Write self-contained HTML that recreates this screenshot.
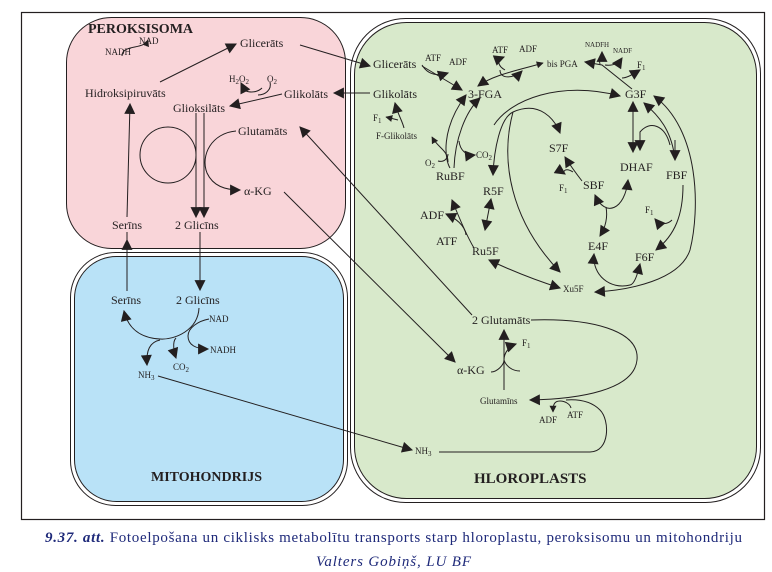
<!DOCTYPE html>
<html><head><meta charset="utf-8"><style>
html,body{margin:0;padding:0;background:#fff;width:772px;height:572px;overflow:hidden}
svg{display:block}
text{font-family:"Liberation Serif",serif;fill:#231f20}
.s{font-size:12px}.xs{font-size:9px}.sub{font-size:7px}
.ln{fill:none;stroke:#231f20;stroke-width:1}
.b{font-weight:bold}
</style></head><body>
<svg width="772" height="572" viewBox="0 0 772 572" xmlns="http://www.w3.org/2000/svg">
<defs>
<marker id="a" viewBox="0 0 10 10" refX="9" refY="5" markerWidth="7" markerHeight="7" markerUnits="userSpaceOnUse" orient="auto-start-reverse"><path d="M0,0L10,5L0,10z" fill="#231f20"/></marker>
<marker id="A" viewBox="0 0 10 10" refX="9" refY="5" markerWidth="12" markerHeight="11" markerUnits="userSpaceOnUse" orient="auto-start-reverse"><path d="M0,0L10,5L0,10z" fill="#231f20"/></marker>
</defs>
<rect x="21.5" y="12.5" width="743" height="507" fill="#fff" stroke="#231f20" stroke-width="1.2"/>
<rect x="66.5" y="17.5" width="279" height="231" rx="45" fill="#f9d5d9" stroke="#231f20"/>
<rect x="70.5" y="252.5" width="277" height="253" rx="45" fill="#fff" stroke="#231f20"/>
<rect x="74.5" y="256.5" width="269" height="245" rx="42" fill="#b9e2f7" stroke="#231f20"/>
<rect x="350.5" y="18.5" width="410" height="484" rx="55" fill="#fff" stroke="#231f20"/>
<rect x="354.5" y="22.5" width="402" height="476" rx="52" fill="#d8e9cb" stroke="#231f20"/>

<g class="ln">
<path d="M122,56 C122,44 144,50 148,40" marker-end="url(#a)"/>
<path d="M160,82 L236,44" marker-end="url(#A)"/>
<path d="M282,94 L230,106" marker-end="url(#A)"/>
<path d="M262,88 C255,95 240,92 242,85 L241,83" marker-end="url(#A)"/>
<path d="M270,82 C272,90 265,95 258,95"/>
<circle cx="168" cy="155" r="28"/>
<path d="M236,131 C212,133 200,155 207,173 C213,186 225,190 240,190" marker-end="url(#A)"/>
<path d="M196,113 L196,217" marker-end="url(#A)"/>
<path d="M204,113 L204,217" marker-end="url(#A)"/>
<path d="M127,217 L130,104" marker-end="url(#A)"/>
<path d="M300,45 L370,66" marker-end="url(#A)"/>
<path d="M370,93 L334,93" marker-end="url(#A)"/>
<path d="M472,315 L300,127" marker-end="url(#A)"/>
<path d="M284,192 L455,362" marker-end="url(#A)"/>
<path d="M200,232 L200,290" marker-end="url(#A)"/>
<path d="M127,291 L127,232"/>
<path d="M127,250 L127,240" marker-end="url(#A)"/>
<path d="M199,308 C198,330 175,340 160,339 C140,338 128,328 124,311" marker-end="url(#A)"/>
<path d="M209,319 C198,321 188,328 188,336 C188,345 196,349 208,349" marker-end="url(#A)"/>
<path d="M176,338 C172,342 174,352 176,358" marker-end="url(#A)"/>
<path d="M160,340 C150,342 146,350 147,365" marker-end="url(#A)"/>
<path d="M158,376 L412,450" marker-end="url(#A)"/>
<path d="M422,65 C425,70 432,78 448,73" marker-end="url(#A)"/>
<path d="M422,66 L462,90" marker-end="url(#A)"/>
<path d="M500,70 C500,80 515,78 522,71" marker-end="url(#A)"/>
<path d="M505,70 C498,66 496,60 504,57" marker-end="url(#A)"/>
<path d="M478,86 C495,74 520,70 543,63" marker-start="url(#A)" marker-end="url(#a)"/>
<path d="M585,62 L602,65 L632,89" marker-start="url(#A)"/>
<path d="M600,64 C598,58 602,56 602,52" marker-end="url(#A)"/>
<path d="M605,65 C612,66 618,64 622,58" marker-end="url(#A)"/>
<path d="M622,78 C626,78 630,76 640,70" marker-end="url(#A)"/>
<path d="M450,168 C445,160 440,130 466,95" marker-end="url(#A)"/>
<path d="M454,168 C455,140 465,112 480,98" marker-end="url(#A)"/>
<path d="M448,162 C448,150 438,148 432,137" marker-end="url(#a)"/>
<path d="M438,161 C445,163 448,157 448,154"/>
<path d="M459,141 C460,150 466,156 475,155" marker-end="url(#A)"/>
<path d="M398,120 L386,117" marker-end="url(#a)"/>
<path d="M404,128 C402,120 398,115 395,103" marker-end="url(#A)"/>
<path d="M474,248 C468,238 460,220 452,200" marker-end="url(#A)"/>
<path d="M466,235 C465,225 455,218 446,214" marker-end="url(#A)"/>
<path d="M491,199 L485,230" marker-start="url(#A)" marker-end="url(#A)"/>
<path d="M489,260 C510,270 535,280 560,288" marker-start="url(#A)" marker-end="url(#A)"/>
<path d="M494,125 C510,100 560,80 620,96" marker-end="url(#A)"/>
<path d="M513,112 C500,118 494,150 493,175" marker-end="url(#A)"/>
<path d="M513,112 C540,100 555,120 560,133" marker-end="url(#A)"/>
<path d="M513,112 C500,160 510,220 560,272" marker-end="url(#A)"/>
<path d="M582,181 C575,172 570,165 565,157" marker-end="url(#A)"/>
<path d="M573,172 C565,167 562,172 565,174" marker-end="url(#A)"/>
<path d="M633,102 L633,152" marker-start="url(#A)" marker-end="url(#A)"/>
<path d="M670,145 C665,125 650,120 640,132 L640,150" marker-end="url(#A)"/>
<path d="M644,103 C658,115 672,130 675,160" marker-start="url(#A)"/>
<path d="M675,140 L675,160" marker-end="url(#A)"/>
<path d="M654,96 C700,130 700,210 690,250 C680,280 630,290 595,292" marker-start="url(#A)" marker-end="url(#A)"/>
<path d="M683,185 C683,215 675,235 656,250" marker-end="url(#A)"/>
<path d="M672,220 C667,225 660,225 655,219" marker-end="url(#A)"/>
<path d="M595,195 C605,218 625,210 628,180" marker-start="url(#A)" marker-end="url(#A)"/>
<path d="M606,207 C608,218 605,228 600,236" marker-end="url(#A)"/>
<path d="M594,254 C592,275 610,290 630,285 C635,284 638,272 640,264" marker-start="url(#A)" marker-end="url(#A)"/>
<path d="M504,390 L504,330" marker-end="url(#A)"/>
<path d="M491,372 C497,372 504,365 504,360 C504,352 510,346 516,344" marker-end="url(#A)"/>
<path d="M504,360 C506,366 512,371 520,371"/>
<path d="M531,320 C590,318 640,330 637,360 C634,390 580,399 530,400" marker-end="url(#A)"/>
<path d="M439,452 L590,452 C610,452 610,420 600,410 C592,402 580,399 566,400"/>
<path d="M571,408 C570,404 565,401 560,401 C554,401 553,405 553,412" marker-end="url(#a)"/>
</g>

<text x="88" y="33" class="b" style="font-size:14px">PEROKSISOMA</text>
<text x="105" y="55" class="xs">NADH</text>
<text x="139" y="44" class="xs">NAD</text>
<text x="240" y="47" class="s">Glicerāts</text>
<text x="85" y="97" class="s">Hidroksipiruvāts</text>
<text x="229" y="82" class="xs">H<tspan class="sub" dy="2">2</tspan><tspan dy="-2">O</tspan><tspan class="sub" dy="2">2</tspan></text>
<text x="267" y="82" class="xs">O<tspan class="sub" dy="2">2</tspan></text>
<text x="284" y="98" class="s">Glikolāts</text>
<text x="173" y="112" class="s">Glioksilāts</text>
<text x="238" y="135" class="s">Glutamāts</text>
<text x="244" y="195" class="s">α-KG</text>
<text x="112" y="229" class="s">Serīns</text>
<text x="175" y="229" class="s">2 Glicīns</text>

<text x="111" y="304" class="s">Serīns</text>
<text x="176" y="304" class="s">2 Glicīns</text>
<text x="209" y="322" class="xs">NAD</text>
<text x="210" y="353" class="xs">NADH</text>
<text x="173" y="370" class="xs">CO<tspan class="sub" dy="2">2</tspan></text>
<text x="138" y="378" class="xs">NH<tspan class="sub" dy="2">3</tspan></text>
<text x="151" y="481" class="b" style="font-size:14px">MITOHONDRIJS</text>

<text x="373" y="68" class="s">Glicerāts</text>
<text x="425" y="61" class="xs">ATF</text>
<text x="449" y="65" class="xs">ADF</text>
<text x="468" y="98" class="s">3-FGA</text>
<text x="373" y="98" class="s">Glikolāts</text>
<text x="373" y="121" class="xs">F<tspan class="sub" dy="2">1</tspan></text>
<text x="376" y="139" class="xs">F-Glikolāts</text>
<text x="425" y="166" class="xs">O<tspan class="sub" dy="2">2</tspan></text>
<text x="476" y="158" class="xs">CO<tspan class="sub" dy="2">2</tspan></text>
<text x="436" y="180" class="s">RuBF</text>
<text x="483" y="195" class="s">R5F</text>
<text x="420" y="219" class="s">ADF</text>
<text x="436" y="245" class="s">ATF</text>
<text x="472" y="255" class="s">Ru5F</text>
<text x="563" y="292" class="xs">Xu5F</text>
<text x="492" y="53" class="xs">ATF</text>
<text x="519" y="52" class="xs">ADF</text>
<text x="547" y="67" class="xs">bis PGA</text>
<text x="585" y="47" class="sub">NADFH</text>
<text x="613" y="53" class="sub">NADF</text>
<text x="637" y="68" class="xs">F<tspan class="sub" dy="2">1</tspan></text>
<text x="625" y="98" class="s">G3F</text>
<text x="549" y="152" class="s">S7F</text>
<text x="559" y="191" class="xs">F<tspan class="sub" dy="2">1</tspan></text>
<text x="583" y="189" class="s">SBF</text>
<text x="620" y="171" class="s">DHAF</text>
<text x="666" y="179" class="s">FBF</text>
<text x="645" y="213" class="xs">F<tspan class="sub" dy="2">1</tspan></text>
<text x="588" y="250" class="s">E4F</text>
<text x="635" y="261" class="s">F6F</text>
<text x="472" y="324" class="s">2 Glutamāts</text>
<text x="522" y="346" class="xs">F<tspan class="sub" dy="2">1</tspan></text>
<text x="457" y="374" class="s">α-KG</text>
<text x="480" y="404" class="xs">Glutamīns</text>
<text x="539" y="423" class="xs">ADF</text>
<text x="567" y="418" class="xs">ATF</text>
<text x="415" y="454" class="xs">NH<tspan class="sub" dy="2">3</tspan></text>
<text x="474" y="483" class="b" style="font-size:15px">HLOROPLASTS</text>

<text x="45" y="542" textLength="697" lengthAdjust="spacing" style="font-size:15px;fill:#1f2a7a"><tspan font-weight="bold" font-style="italic">9.37. att.</tspan> Fotoelpošana un ciklisks metabolītu transports starp hloroplastu, peroksisomu un mitohondriju</text>
<text x="316" y="566" textLength="155" lengthAdjust="spacing" style="font-size:15px;fill:#1f2a7a;font-style:italic">Valters Gobiņš, LU BF</text>
</svg>
</body></html>
